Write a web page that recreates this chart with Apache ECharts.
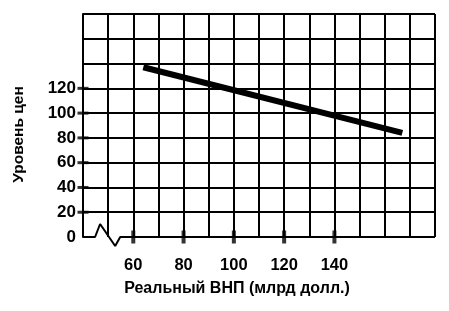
<!DOCTYPE html>
<html><head><meta charset="utf-8">
<script src="https://cdn.jsdelivr.net/npm/echarts@6/dist/echarts.min.js"></script>
<style>html,body{margin:0;padding:0;background:#fff}#c{width:449px;height:311px}</style>
</head><body><div id="c"></div>
<script>
const xLabelValues = [60, 80, 100, 120, 140];
const yLabelValues = [0, 20, 40, 60, 80, 100, 120];
const yTickValues = [20, 40, 60, 80, 100, 120];
const curveX = [64, 167];
const curveY = [137, 84];
const breakX = [40, 44.8, 46.8, 52.8, 54.8, 180];
const breakY = [0, 0, 10.5, -7.3, 0, 0];
const xAxisName = 'Реальный ВНП (млрд долл.)';
const yAxisName = 'Уровень цен';

const font = 'Liberation Sans';
const chart = echarts.init(document.getElementById('c'), null, {renderer: 'canvas'});
chart.setOption({
  animation: false,
  backgroundColor: '#fff',
  grid: {left: 83, right: 14, top: 14, bottom: 74},
  xAxis: {
    type: 'value', min: 40, max: 180, interval: 10,
    name: xAxisName, nameLocation: 'middle', nameGap: 44,
    nameTextStyle: {color: '#000', fontFamily: font, fontWeight: 'bold', fontSize: 16, padding: [0, 44, 0, 0]},
    axisLine: {show: false}, axisTick: {show: false},
    axisLabel: {color: '#000', fontFamily: font, fontWeight: 'bold', fontSize: 16.5, margin: 20,
      formatter: v => xLabelValues.includes(v) ? String(v) : ''},
    splitLine: {show: true, lineStyle: {color: '#000', width: 2}}
  },
  yAxis: {
    type: 'value', min: 0, max: 180, interval: 20,
    name: yAxisName, nameLocation: 'middle', nameGap: 56,
    nameTextStyle: {color: '#000', fontFamily: font, fontWeight: 'bold', fontSize: 15.5, padding: [0, 18, 0, 0]},
    axisLine: {show: true, lineStyle: {color: '#000', width: 2}}, axisTick: {show: false},
    axisLabel: {color: '#000', fontFamily: font, fontWeight: 'bold', fontSize: 17, margin: 7,
      formatter: v => yLabelValues.includes(v) ? String(v) : ''},
    splitLine: {show: true, showMinLine: false, lineStyle: {color: '#000', width: 2}}
  },
  series: [
    {type: 'line', data: breakX.map((x, i) => [x, breakY[i]]), symbol: 'none', clip: false,
     lineStyle: {color: '#000', width: 2}, silent: true},
    {type: 'scatter', data: yTickValues.map(v => [40, v]), symbol: 'rect', symbolSize: [11, 3],
     itemStyle: {color: '#000'}, silent: true},
    {type: 'scatter', data: xLabelValues.map(v => [v, 0]), symbol: 'rect', symbolSize: [4, 13],
     itemStyle: {color: '#000'}, silent: true},
    {type: 'line', data: curveX.map((x, i) => [x, curveY[i]]), symbol: 'none',
     lineStyle: {color: '#000', width: 6}, silent: true}
  ]
});
</script></body></html>
